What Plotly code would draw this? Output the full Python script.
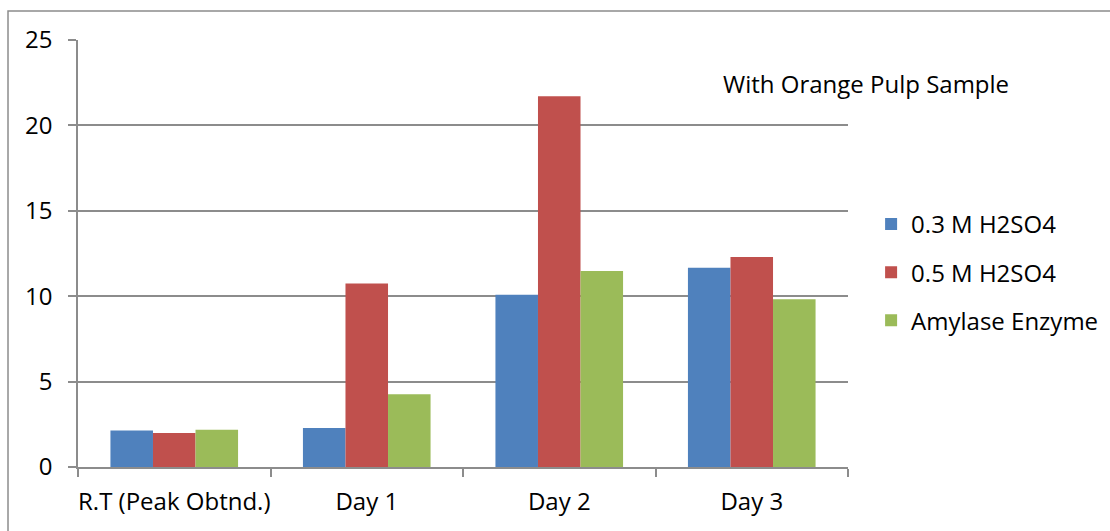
import plotly.graph_objects as go

categories = ["R.T (Peak Obtnd.)", "Day 1", "Day 2", "Day 3"]
h2so4_03 = [2.14, 2.28, 10.08, 11.66]
h2so4_05 = [1.99, 10.74, 21.70, 12.30]
amylase = [2.18, 4.26, 11.48, 9.82]
series_names = ["0.3 M H2SO4", "0.5 M H2SO4", "Amylase Enzyme"]
colors = ["#4F81BD", "#C0504D", "#9BBB59"]

FONT = "Open Sans"
FSIZE = 24
GRAY = "#8C8C8C"

fig = go.Figure()
for i, (name, vals, col) in enumerate(zip(series_names, [h2so4_03, h2so4_05, amylase], colors)):
    fig.add_trace(go.Bar(
        x=categories, y=vals, name=name, legendgroup=f"g{i}",
        marker=dict(color=col, line=dict(width=0)),
    ))

fig.update_layout(
    width=1110, height=531,
    margin=dict(l=78, r=262, t=40, b=64, autoexpand=False),
    paper_bgcolor="white", plot_bgcolor="white",
    barmode="group", bargap=0.337, bargroupgap=0,
    font=dict(family=FONT, size=FSIZE, color="black"),
    showlegend=True,
    legend=dict(
        x=1.030, y=0.621, xanchor="left", yanchor="top",
        bgcolor="rgba(0,0,0,0)", tracegroupgap=14,
        font=dict(family=FONT, size=FSIZE, color="black"),
        traceorder="grouped",
    ),
    xaxis=dict(
        showline=True, linecolor=GRAY, linewidth=1.5,
        ticks="outside", ticklen=8, tickcolor=GRAY, tickwidth=1.5,
        tickson="boundaries", ticklabelstandoff=12, showgrid=False,
        tickangle=0,
    ),
    yaxis=dict(
        range=[0, 25], dtick=5, showline=True, linecolor=GRAY, linewidth=1.5,
        showgrid=True, gridcolor=GRAY, gridwidth=1.5,
        ticks="outside", ticklen=8, tickcolor=GRAY, tickwidth=1.5,
        ticklabelstandoff=11, zeroline=False,
    ),
)

fig.add_annotation(
    text="With Orange Pulp Sample", xref="paper", yref="paper",
    x=0.835, y=0.8986, xanchor="left", yanchor="middle", showarrow=False,
    font=dict(family=FONT, size=FSIZE, color="black"),
)

# chart-area frame
fig.add_shape(
    type="rect", xref="paper", yref="paper",
    x0=-0.0909, y0=-0.2, x1=1.36, y1=1.068,
    line=dict(color=GRAY, width=1.5), fillcolor="rgba(0,0,0,0)", layer="below",
)

fig.write_html("out.html")
